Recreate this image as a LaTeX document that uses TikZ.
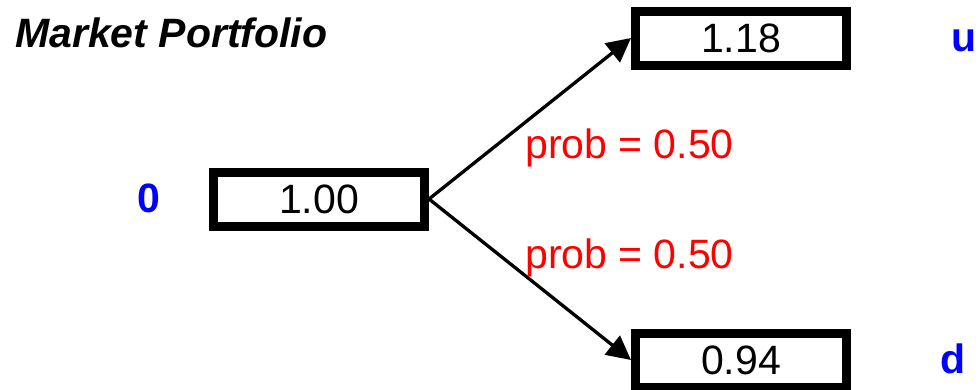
\documentclass[tikz,border=0pt]{standalone}
\usepackage{fontspec}
\setmainfont{Liberation Sans}
\usetikzlibrary{arrows.meta}
\tikzset{
  valbox/.style={draw, line width=9pt, minimum width=211pt, minimum height=54pt, inner sep=0pt, font=\fontsize{41}{49}\selectfont},
  problbl/.style={text=red, anchor=base west, inner sep=0pt, font=\fontsize{41}{49}\selectfont},
  statelbl/.style={text=blue, anchor=base, inner sep=0pt, font=\fontsize{41}{49}\selectfont\bfseries}
}
\begin{document}
\begin{tikzpicture}[x=1pt, y=-1pt, >={Triangle[length=24pt, width=24pt]}]
  \useasboundingbox (0,0) rectangle (979,389);
  % title
  \node[anchor=base west, inner sep=0pt, font=\fontsize{41}{49}\selectfont\bfseries\itshape] (title) at (15,47) {Market Portfolio};
  % the three values
  \node[valbox] (mid) at (319,199) {1.00};
  \node[valbox] (up) at (741,38) {1.18};
  \node[valbox] (down) at (741,360) {0.94};
  % states
  \node[statelbl] (s0) at (148.5,212) {0};
  \node[statelbl] (su) at (964,51) {u};
  \node[statelbl] (sd) at (953,373) {d};
  % branches
  \draw[->, line width=3.3pt] (mid.east) -- (up.west);
  \draw[->, line width=3.3pt] (mid.east) -- (down.west);
  \node[problbl] (pu) at (525,158) {prob = 0.50};
  \node[problbl] (pd) at (525,268) {prob = 0.50};
\end{tikzpicture}
\end{document}
